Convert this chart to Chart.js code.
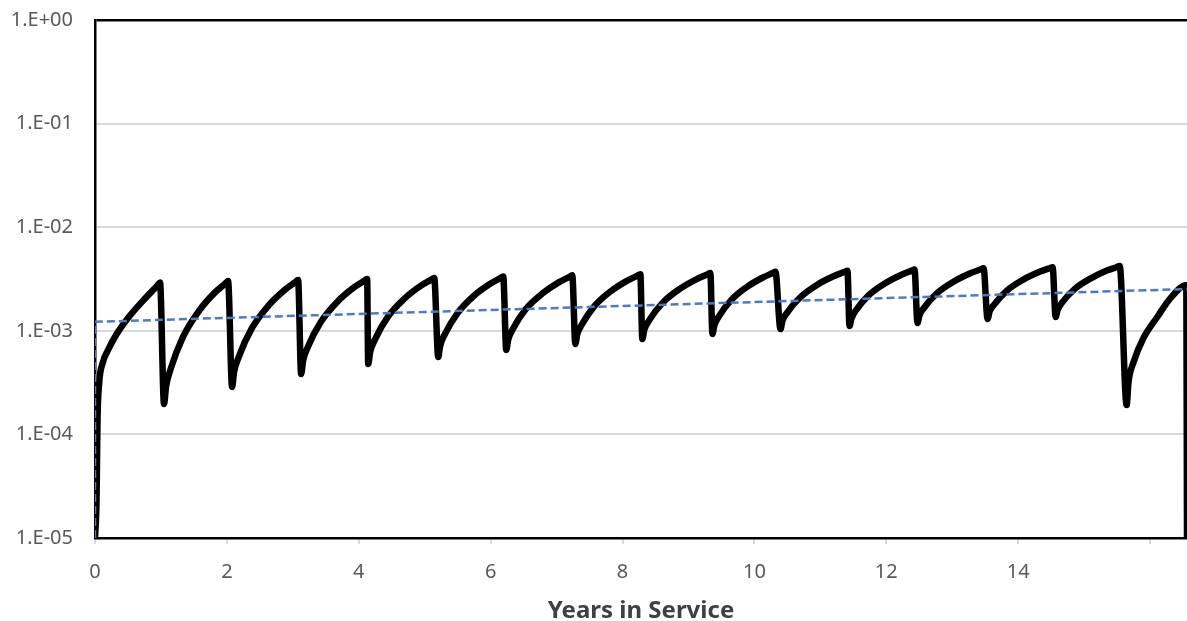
<!DOCTYPE html>
<html lang="en">
<head>
<meta charset="UTF-8">
<title>Years in Service</title>
<script src="https://cdn.jsdelivr.net/npm/chart.js"></script>
<style>
    body { margin: 0; background: #fff; }
    .wrap { width: 1187px; height: 621px; position: relative; }
</style>
</head>
<body>
<div class="wrap"><canvas id="chart"></canvas></div>
<script>
// black sawtooth curve (one row per yearly cycle)
const years = [
    0, 0.023, 0.038, 0.061, 0.121, 0.197, 0.319, 0.501, 0.759, 0.94, 0.986,
    1.047, 1.077, 1.144, 1.338, 1.581, 1.824, 1.968, 2.018,
    2.079, 2.109, 2.179, 2.379, 2.630, 2.880, 3.030, 3.080,
    3.126, 3.156, 3.226, 3.426, 3.677, 3.927, 4.077, 4.127,
    4.143, 4.173, 4.243, 4.443, 4.694, 4.944, 5.094, 5.144,
    5.205, 5.235, 5.304, 5.501, 5.747, 5.994, 6.141, 6.191,
    6.237, 6.267, 6.337, 6.537, 6.788, 7.038, 7.188, 7.238,
    7.284, 7.314, 7.383, 7.580, 7.826, 8.073, 8.220, 8.270,
    8.300, 8.330, 8.403, 8.610, 8.868, 9.126, 9.282, 9.332,
    9.363, 9.393, 9.459, 9.650, 9.889, 10.128, 10.269, 10.319,
    10.395, 10.425, 10.497, 10.700, 10.954, 11.208, 11.361, 11.411,
    11.442, 11.472, 11.541, 11.738, 11.984, 12.231, 12.378, 12.428,
    12.473, 12.503, 12.573, 12.774, 13.024, 13.275, 13.425, 13.475,
    13.536, 13.566, 13.635, 13.832, 14.078, 14.325, 14.472, 14.522,
    14.568, 14.598, 14.665, 14.859, 15.102, 15.345, 15.489, 15.539,
    15.645, 15.672, 15.75, 15.90, 16.12, 16.31, 16.55, 16.56
];
const values = [
    1e-5, 2.3e-5, 1.38e-4, 3.0e-4, 5.0e-4, 6.5e-4, 9.1e-4, 1.33e-3, 2.05e-3, 2.71e-3, 2.93e-3,
    1.96e-4, 2.88e-4, 4.22e-4, 8.83e-4, 1.57e-3, 2.36e-3, 2.83e-3, 3.02e-3,
    2.87e-4, 4.0e-4, 5.58e-4, 1.06e-3, 1.75e-3, 2.49e-3, 2.93e-3, 3.09e-3,
    3.83e-4, 5.15e-4, 6.92e-4, 1.22e-3, 1.91e-3, 2.62e-3, 3.02e-3, 3.17e-3,
    4.78e-4, 6.25e-4, 8.18e-4, 1.37e-3, 2.05e-3, 2.73e-3, 3.10e-3, 3.24e-3,
    5.59e-4, 7.18e-4, 9.23e-4, 1.49e-3, 2.18e-3, 2.84e-3, 3.21e-3, 3.34e-3,
    6.53e-4, 8.24e-4, 1.04e-3, 1.63e-3, 2.30e-3, 2.95e-3, 3.30e-3, 3.43e-3,
    7.46e-4, 9.27e-4, 1.15e-3, 1.75e-3, 2.42e-3, 3.05e-3, 3.39e-3, 3.52e-3,
    8.34e-4, 1.02e-3, 1.26e-3, 1.87e-3, 2.54e-3, 3.16e-3, 3.49e-3, 3.61e-3,
    9.32e-4, 1.13e-3, 1.37e-3, 1.99e-3, 2.66e-3, 3.27e-3, 3.59e-3, 3.71e-3,
    1.04e-3, 1.25e-3, 1.50e-3, 2.12e-3, 2.79e-3, 3.38e-3, 3.69e-3, 3.80e-3,
    1.11e-3, 1.32e-3, 1.58e-3, 2.22e-3, 2.88e-3, 3.48e-3, 3.79e-3, 3.90e-3,
    1.19e-3, 1.41e-3, 1.67e-3, 2.32e-3, 2.99e-3, 3.59e-3, 3.90e-3, 4.01e-3,
    1.30e-3, 1.53e-3, 1.79e-3, 2.45e-3, 3.12e-3, 3.71e-3, 4.01e-3, 4.11e-3,
    1.36e-3, 1.59e-3, 1.87e-3, 2.54e-3, 3.21e-3, 3.81e-3, 4.11e-3, 4.22e-3,
    1.92e-4, 3.16e-4, 5.0e-4, 8.53e-4, 1.39e-3, 2.07e-3, 2.75e-3, 1e-5
];

// blue dashed trend line
const trendYears = [0, 0, 16.56];
const trendValues = [1e-5, 1.22e-3, 2.53e-3];

const xTickValues = [0, 2, 4, 6, 8, 10, 12, 14, 16];
const xTickLabels = ['0', '2', '4', '6', '8', '10', '12', '14', ''];
const yTickValues = [1e-5, 1e-4, 1e-3, 1e-2, 1e-1, 1];
const yTickLabels = ['1.E-05', '1.E-04', '1.E-03', '1.E-02', '1.E-01', '1.E+00'];

const font = '"Noto Sans", "DejaVu Sans", sans-serif';

function toPoints(xs, ys) {
    return xs.map((x, i) => ({ x: x, y: ys[i] }));
}

new Chart(document.getElementById('chart'), {
    type: 'line',
    data: {
        datasets: [
            {
                data: toPoints(trendYears, trendValues),
                borderColor: '#4a7cc4',
                borderWidth: 2.5,
                borderDash: [8, 4],
                pointRadius: 0,
                tension: 0
            },
            {
                data: toPoints(years, values),
                borderColor: '#000',
                borderWidth: 6.5,
                borderJoinStyle: 'round',
                borderCapStyle: 'round',
                pointRadius: 0,
                cubicInterpolationMode: 'monotone'
            }
        ]
    },
    options: {
        responsive: true,
        maintainAspectRatio: false,
        animation: false,
        layout: { padding: { top: 20, right: 0, left: 0, bottom: 0 } },
        plugins: {
            legend: { display: false },
            tooltip: { enabled: false }
        },
        scales: {
            x: {
                type: 'linear',
                min: 0,
                max: 16.56,
                afterBuildTicks: s => { s.ticks = xTickValues.map(v => ({ value: v })); },
                afterFit: s => { s.height = 83; s.paddingRight = 0; },
                grid: { drawOnChartArea: false, drawTicks: true, tickLength: 6, color: '#d9d9d9', lineWidth: 2 },
                border: { display: true, color: '#000', width: 2.5 },
                ticks: {
                    padding: 16,
                    color: '#595959',
                    autoSkip: false,
                    maxRotation: 0,
                    font: { family: font, size: 20 },
                    callback: (v, i) => xTickLabels[i]
                },
                title: {
                    display: true,
                    text: 'Years in Service',
                    color: '#404040',
                    font: { family: font, size: 24, weight: 'bold' },
                    padding: { top: 0, bottom: -5 }
                }
            },
            y: {
                type: 'logarithmic',
                min: 1e-5,
                max: 1,
                afterBuildTicks: s => { s.ticks = yTickValues.map(v => ({ value: v })); },
                afterFit: s => { s.width = 95; s.paddingTop = 0; s.paddingBottom = 0; },
                grid: {
                    drawTicks: false,
                    color: c => (c.tick && (c.tick.value === 1 || c.tick.value === 1e-5)) ? '#000' : '#d9d9d9',
                    lineWidth: c => (c.tick && c.tick.value === 1) ? 2.5 : 2
                },
                border: { color: '#000', width: 2.5 },
                ticks: {
                    padding: 22,
                    color: '#595959',
                    font: { family: font, size: 20 },
                    callback: (v, i) => yTickLabels[i]
                }
            }
        }
    }
});
</script>
</body>
</html>
